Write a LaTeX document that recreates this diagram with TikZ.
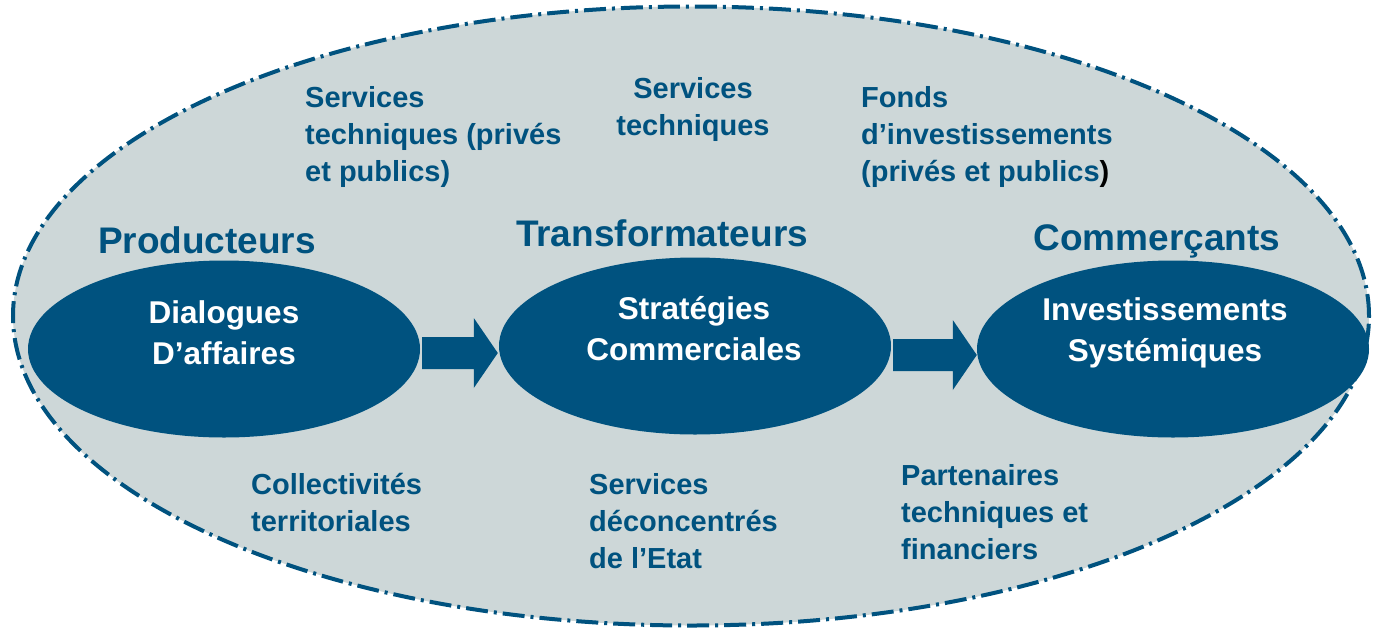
\documentclass[tikz,border=0pt]{standalone}
\usepackage{fontspec}
\setmainfont{Liberation Sans}
\usetikzlibrary{shapes.geometric,calc}

\definecolor{navy}{HTML}{00527F}
\definecolor{mist}{HTML}{CDD7D8}

% fleche pleine entre deux ellipses
\newcommand{\fleche}[2]{%
  \fill[navy] ($(#1.east |- #2)+(2,-16)$) -- ($(#2)+(-24,-16)$) -- ++(0,-19) -- (#2)
    -- ($(#2)+(-24,35)$) -- ++(0,-19) -- ($(#1.east |- #2)+(2,16)$) -- cycle;}

\begin{document}
\begin{tikzpicture}[x=1pt, y=-1pt,
  bloc/.style={ellipse, fill=navy, minimum width=392, minimum height=177, inner sep=0pt},
  titre/.style={text=navy, font=\fontsize{37}{40}\selectfont\bfseries, inner sep=0pt, anchor=base},
  dedans/.style={text=white, font=\fontsize{31.5}{41}\selectfont\bfseries, align=center, inner sep=0pt, anchor=base},
  acteur/.style={text=navy, font=\fontsize{29}{37}\selectfont\bfseries, align=left, inner sep=0pt, anchor=base west}]
		
		\useasboundingbox (0,0) rectangle (1373,630);
		
		% Grand cadre
		\node[ellipse, draw=navy, fill=mist, line width=4pt, dash pattern=on 22pt off 6pt on 3pt off 6pt,
		  minimum width=1356, minimum height=619, inner sep=0pt] (cadre) at (691,316) {};
		
		% Maillons de la chaine (base = derniere ligne)
		\node[bloc] (dial) at (224,349) {};
		\node[bloc] (strat) at (695,346) {};
		\node[bloc] (invest) at (1173,349) {};
		\node[dedans] (dialtxt) at (224,364) {Dialogues\\D’affaires};
		\node[dedans] (strattxt) at (694,360) {Stratégies\\Commerciales};
		\node[dedans] (investtxt) at (1165,361) {Investissements\\Systémiques};
		
		% Titres
		\node[titre] (prod) at (207,253) {Producteurs};
		\node[titre] (transf) at (662,246) {Transformateurs};
		\node[titre] (comm) at (1157,250) {Commerçants};
		
		% Fleches
		\coordinate (pointe1) at ($(strat.west)+(-1,7)$);
		\coordinate (pointe2) at ($(invest.west)+(0,6)$);
		\fleche{dial}{pointe1}
		\fleche{strat}{pointe2}
		
		% Acteurs d'appui
		\node[acteur] (servpriv) at (305,181) {Services\\techniques (privés\\et publics)};
		\node[acteur, align=center, anchor=base] (servtech) at (693,135) {Services\\techniques};
		\node[acteur] (fonds) at (861,181) {Fonds\\d’investissements\\(privés et publics{\color{black})}};
		\node[acteur] (collect) at (251,531) {Collectivités\\territoriales};
		\node[acteur] (deconc) at (589,568) {Services\\déconcentrés\\de l’Etat};
		\node[acteur] (partn) at (901,559) {Partenaires\\techniques et\\financiers};
	\end{tikzpicture}
\end{document}
